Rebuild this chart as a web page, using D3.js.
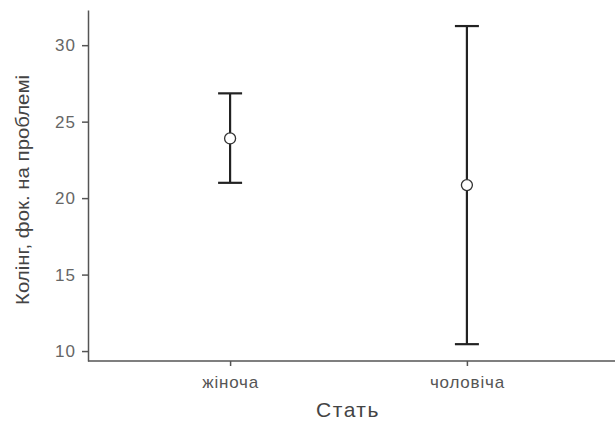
<!DOCTYPE html>
<html>
<head>
<meta charset="utf-8">
<script src="https://cdn.jsdelivr.net/npm/d3@7"></script>
<style>
  body { margin: 0; background: #fff; }
  text { font-family: "Liberation Sans", Arial, sans-serif; }
</style>
</head>
<body>
<div id="chart"></div>
<script>
// data
const categories = ["жіноча", "чоловіча"];
const means = [23.9, 20.85];
const lower = [21.0, 10.45];
const upper = [26.85, 31.25];
const yTicks = [10, 15, 20, 25, 30];

const width = 615, height = 425;
const plotLeft = 88, plotRight = 615, plotTop = 10, plotBottom = 361;

const svg = d3.select("#chart").append("svg")
    .attr("width", width)
    .attr("height", height);

const x = d3.scalePoint()
    .domain(categories)
    .range([88, 609])
    .padding(0.6);

const y = d3.scaleLinear()
    .domain([9.35, 32.3])
    .range([plotBottom, plotTop]);

// axes
const yAxis = svg.append("g")
    .attr("transform", `translate(${plotLeft},0)`)
    .call(d3.axisLeft(y).tickValues(yTicks).tickSize(6).tickPadding(6).tickSizeOuter(0));

const xAxis = svg.append("g")
    .attr("transform", `translate(0,${plotBottom})`)
    .call(d3.axisBottom(x).tickSize(5).tickPadding(10).tickSizeOuter(0));

// domain lines span full plot
xAxis.select(".domain").attr("d", `M${plotLeft},0H${plotRight}`);

svg.selectAll(".domain, .tick line")
    .attr("stroke", "#555")
    .attr("stroke-width", 1.5);

yAxis.selectAll(".tick text")
    .attr("fill", "#666")
    .attr("font-size", 17)
    .attr("letter-spacing", 1);

xAxis.selectAll(".tick text")
    .attr("fill", "#555")
    .attr("font-size", 17)
    .attr("letter-spacing", 0.8);

// axis titles
svg.append("text")
    .attr("x", 348)
    .attr("y", 417)
    .attr("text-anchor", "middle")
    .attr("fill", "#444")
    .attr("font-size", 21)
    .attr("letter-spacing", 1.5)
    .text("Стать");

svg.append("text")
    .attr("transform", "translate(29,190) rotate(-90)")
    .attr("text-anchor", "middle")
    .attr("fill", "#444")
    .attr("font-size", 19)
    .attr("textLength", 230)
    .attr("lengthAdjust", "spacingAndGlyphs")
    .text("Колінг, фок. на проблемі");

// error bars
const capW = 12;
const bars = svg.append("g")
    .attr("stroke", "#222")
    .attr("stroke-width", 2.2)
  .selectAll("g")
  .data(categories)
  .join("g");

bars.append("line")
    .attr("x1", (d) => x(d))
    .attr("x2", (d) => x(d))
    .attr("y1", (d, i) => y(lower[i]))
    .attr("y2", (d, i) => y(upper[i]));

bars.append("line")
    .attr("x1", (d) => x(d) - capW)
    .attr("x2", (d) => x(d) + capW)
    .attr("y1", (d, i) => y(upper[i]))
    .attr("y2", (d, i) => y(upper[i]));

bars.append("line")
    .attr("x1", (d) => x(d) - capW)
    .attr("x2", (d) => x(d) + capW)
    .attr("y1", (d, i) => y(lower[i]))
    .attr("y2", (d, i) => y(lower[i]));

bars.append("circle")
    .attr("cx", (d) => x(d))
    .attr("cy", (d, i) => y(means[i]))
    .attr("r", 5.5)
    .attr("fill", "#fff")
    .attr("stroke", "#333")
    .attr("stroke-width", 1.3);
</script>
</body>
</html>
